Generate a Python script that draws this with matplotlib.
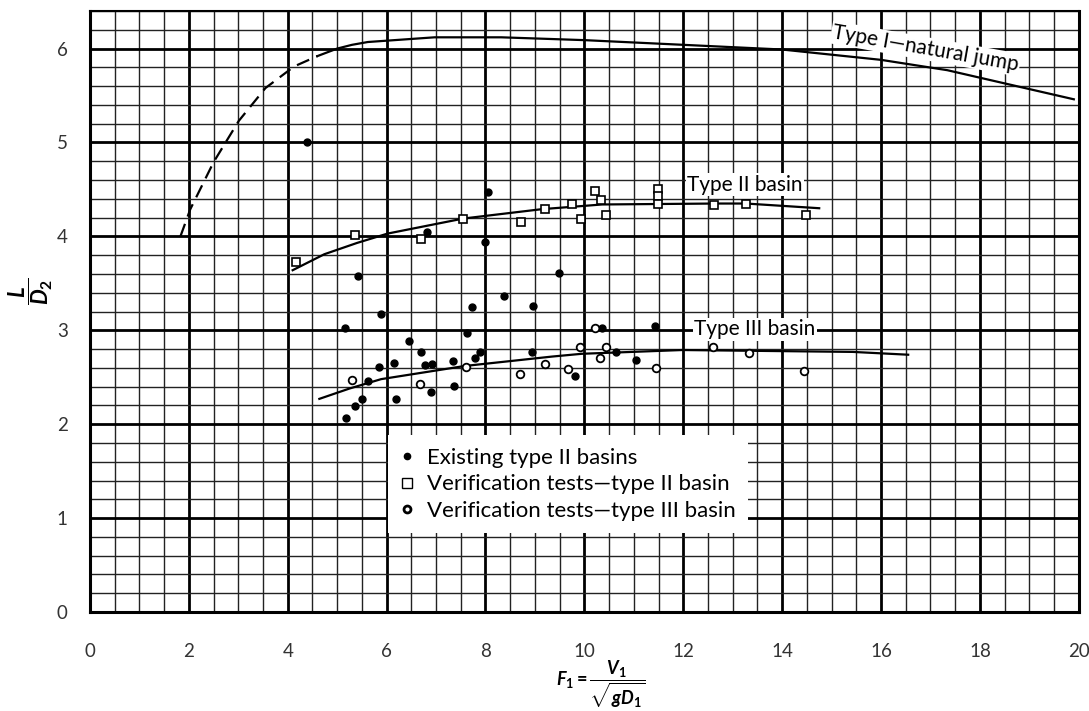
import matplotlib
matplotlib.use("Agg")
import matplotlib.pyplot as plt
from matplotlib.ticker import MultipleLocator
from matplotlib.lines import Line2D

plt.rcParams['font.family'] = ['Lato', 'DejaVu Sans']
plt.rcParams['mathtext.fontset'] = 'custom'
plt.rcParams['mathtext.it'] = 'Lato:italic:bold'
plt.rcParams['mathtext.rm'] = 'Lato:bold'
plt.rcParams['mathtext.bf'] = 'Lato:bold'

# data
existing_x = [4.38, 8.05, 6.82, 7.99, 5.43, 9.48, 8.38, 7.73, 8.97, 5.89, 5.16, 10.36,
              11.43, 7.62, 6.46, 6.69, 7.88, 7.79, 8.95, 10.65, 6.14, 6.78, 6.92, 7.35,
              5.85, 11.05, 5.62, 9.82, 7.36, 6.90, 6.19, 5.50, 5.37, 5.17]
existing_y = [5.01, 4.47, 4.05, 3.94, 3.58, 3.61, 3.37, 3.25, 3.26, 3.17, 3.02, 3.02,
              3.05, 2.97, 2.89, 2.77, 2.77, 2.71, 2.77, 2.77, 2.65, 2.63, 2.64, 2.67,
              2.61, 2.68, 2.46, 2.51, 2.41, 2.34, 2.27, 2.27, 2.19, 2.07]

ver2_x = [4.16, 5.37, 6.69, 7.55, 8.71, 9.20, 9.75, 9.94, 10.22, 10.34, 10.44,
          11.49, 11.49, 11.49, 12.62, 13.27, 14.48]
ver2_y = [3.73, 4.01, 3.97, 4.19, 4.15, 4.29, 4.35, 4.18, 4.48, 4.39, 4.23,
          4.50, 4.43, 4.34, 4.33, 4.34, 4.23]

ver3_x = [5.30, 6.67, 7.61, 8.69, 9.20, 9.67, 9.92, 10.22, 10.32, 10.44, 11.45,
          12.60, 13.33, 14.44]
ver3_y = [2.47, 2.43, 2.61, 2.54, 2.64, 2.59, 2.82, 3.02, 2.71, 2.82, 2.60,
          2.82, 2.76, 2.57]

type1_dash_x = [1.83, 2.03, 2.50, 3.01, 3.55, 4.13, 4.60]
type1_dash_y = [4.00, 4.29, 4.79, 5.23, 5.58, 5.81, 5.92]
type1_x = [4.60, 5.00, 5.30, 5.62, 6.97, 8.32, 10.0, 12.0, 14.0, 16.0, 17.34, 18.0, 19.9]
type1_y = [5.92, 6.00, 6.04, 6.07, 6.12, 6.12, 6.09, 6.04, 5.99, 5.88, 5.77, 5.69, 5.46]

type2_x = [4.10, 4.74, 5.40, 6.02, 7.55, 9.14, 10.36, 12.66, 13.27, 14.75]
type2_y = [3.64, 3.81, 3.93, 4.03, 4.19, 4.29, 4.34, 4.35, 4.35, 4.30]

type3_x = [4.64, 5.25, 5.89, 7.58, 9.34, 9.95, 11.98, 15.43, 16.55]
type3_y = [2.27, 2.38, 2.48, 2.62, 2.72, 2.75, 2.79, 2.77, 2.74]

legend_labels = ['Existing type II basins',
                 'Verification tests\u2014type II basin',
                 'Verification tests\u2014type III basin']

fig = plt.figure(figsize=(10.89, 7.11), dpi=100)
ax = fig.add_axes([0.0826, 0.1392, 0.908, 0.8453])

ax.set_xlim(0, 20)
ax.set_ylim(0, 6.4)
ax.xaxis.set_major_locator(MultipleLocator(2))
ax.xaxis.set_minor_locator(MultipleLocator(0.5))
ax.yaxis.set_major_locator(MultipleLocator(1))
ax.yaxis.set_minor_locator(MultipleLocator(0.2))
ax.set_axisbelow(True)
ax.grid(which='major', color='black', lw=2.0)
ax.grid(which='minor', color='#222222', lw=1.0)
ax.tick_params(which='both', length=0, labelsize=13.5, labelcolor='#333333')
ax.tick_params(axis='x', pad=22)
ax.tick_params(axis='y', pad=16)
for side in ['left', 'bottom', 'right']:
    ax.spines[side].set_linewidth(2.2)
ax.spines['top'].set_linewidth(1.5)

# curves
ax.plot(type1_dash_x, type1_dash_y, color='black', lw=1.6, ls=(0, (6, 3.5)), zorder=3)
ax.plot(type1_x, type1_y, color='black', lw=1.6, zorder=3)
ax.plot(type2_x, type2_y, color='black', lw=1.6, zorder=3)
ax.plot(type3_x, type3_y, color='black', lw=1.6, zorder=3)

# points
ax.plot(existing_x, existing_y, 'o', color='black', ms=5, zorder=4)
ax.plot(ver2_x, ver2_y, 's', mfc='white', mec='black', mew=1.2, ms=6, zorder=4)
ax.plot(ver3_x, ver3_y, 'o', mfc='white', mec='black', mew=1.3, ms=5.5, zorder=4)

box = dict(facecolor='white', edgecolor='none', pad=1)
ax.text(16.9, 6.0, 'Type I\u2014natural jump', fontsize=15, rotation=-10,
        ha='center', va='center', bbox=box, zorder=5)
ax.text(13.25, 4.55, 'Type II basin', fontsize=15, ha='center', va='center',
        bbox=box, zorder=5)
ax.text(13.45, 3.01, 'Type III basin', fontsize=15, ha='center', va='center',
        bbox=box, zorder=5)

handles = [Line2D([], [], ls='none', marker='o', color='black', ms=4.5),
           Line2D([], [], ls='none', marker='s', mfc='white', mec='black', mew=1, ms=6.5),
           Line2D([], [], ls='none', marker='o', mfc='white', mec='black', mew=2, ms=5)]
leg = ax.legend(handles, legend_labels, loc='upper left', bbox_to_anchor=(6.03, 1.88),
                bbox_transform=ax.transData, fontsize=16, frameon=True, fancybox=False,
                edgecolor='none', facecolor='white', framealpha=1, handlelength=0.6,
                handletextpad=0.6, labelspacing=0.3, borderaxespad=0, borderpad=0.55)
leg.set_zorder(6)

ax.set_ylabel(r'$\dfrac{L}{D_2}$', fontsize=16, rotation=90, va='center')
ax.yaxis.set_label_coords(-0.06, 0.534)
fig.text(601 / 1089, 1 - 684 / 711, r'$F_1 = \dfrac{V_1}{\sqrt{gD_1}}$', fontsize=13,
         ha='center', va='center')

fig.savefig('out.png', dpi=100)
